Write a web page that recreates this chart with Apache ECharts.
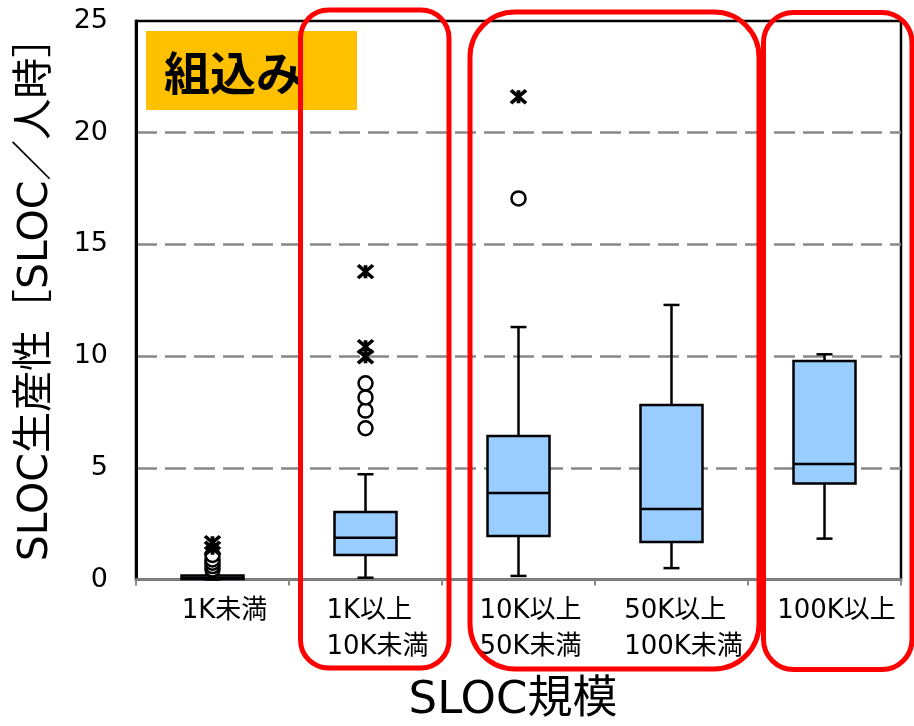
<!DOCTYPE html>
<html>
<head>
<meta charset="utf-8">
<script src="https://cdn.jsdelivr.net/npm/echarts@6/dist/echarts.min.js"></script>
<style>
  html, body { margin: 0; padding: 0; background: #fff; }
  #chart { width: 914px; height: 726px; }
</style>
</head>
<body>
<div id="chart"></div>
<script>
// SLOC productivity by project size (embedded systems)
const categories = ['1K未満', '1K以上\n10K未満', '10K以上\n50K未満', '50K以上\n100K未満', '100K以上'];

// five-number summaries per size class
const whiskerLow  = [0.00, 0.08, 0.16, 0.51, 1.83];
const quartile1   = [0.02, 1.10, 1.95, 1.68, 4.30];
const medians     = [0.08, 1.87, 3.87, 3.16, 5.17];
const quartile3   = [0.18, 3.02, 6.42, 7.81, 9.78];
const whiskerHigh = [0.20, 4.71, 11.30, 12.29, 10.08];

// outliers: [category index, value]
const mildOutliers = [
  [0, 0.45], [0, 0.6], [0, 0.75], [0, 0.9], [0, 1.1],
  [1, 6.77], [1, 7.56], [1, 8.15], [1, 8.78],
  [2, 17.06]
];
const extremeOutliers = [
  [0, 1.4], [0, 1.65],
  [1, 9.97], [1, 10.42], [1, 13.78],
  [2, 21.61]
];

const yTicks = { min: 0, max: 25, interval: 5 };

const FONT = "'DejaVu Sans', 'Noto Sans CJK JP', sans-serif";
const BOX_FILL = '#99CCFF';
const BOX_WIDTH = 62;
const CAP_WIDTH = 16;

const boxData = categories.map((c, i) => [i, whiskerLow[i], quartile1[i], medians[i], quartile3[i], whiskerHigh[i]]);

function renderBox(params, api) {
  const i = api.value(0);
  const pLow = api.coord([i, api.value(1)]);
  const pQ1 = api.coord([i, api.value(2)]);
  const pMed = api.coord([i, api.value(3)]);
  const pQ3 = api.coord([i, api.value(4)]);
  const pHigh = api.coord([i, api.value(5)]);
  const cx = pMed[0];
  const half = BOX_WIDTH / 2;
  const cap = CAP_WIDTH / 2;
  const lineStyle = { stroke: '#000', lineWidth: 2.5, fill: null };
  return {
    type: 'group',
    children: [
      { type: 'line', shape: { x1: cx, y1: pQ3[1], x2: cx, y2: pHigh[1] }, style: lineStyle },
      { type: 'line', shape: { x1: cx, y1: pQ1[1], x2: cx, y2: pLow[1] }, style: lineStyle },
      { type: 'line', shape: { x1: cx - cap, y1: pHigh[1], x2: cx + cap, y2: pHigh[1] }, style: lineStyle },
      { type: 'line', shape: { x1: cx - cap, y1: pLow[1], x2: cx + cap, y2: pLow[1] }, style: lineStyle },
      { type: 'rect', shape: { x: cx - half, y: pQ3[1], width: BOX_WIDTH, height: pQ1[1] - pQ3[1] },
        style: { fill: BOX_FILL, stroke: '#000', lineWidth: 2.5 } },
      { type: 'line', shape: { x1: cx - half, y1: pMed[1], x2: cx + half, y2: pMed[1] }, style: lineStyle }
    ]
  };
}

const chart = echarts.init(document.getElementById('chart'), null, { renderer: 'canvas' });

chart.setOption({
  backgroundColor: '#fff',
  animation: false,
  grid: {
    left: 136, right: 13, top: 21, bottom: 146.5,
    show: true, borderColor: '#000', borderWidth: 2.5, backgroundColor: 'transparent'
  },
  xAxis: {
    type: 'category',
    data: categories,
    boundaryGap: true,
    axisLine: { show: true, lineStyle: { color: '#888', width: 2.5 } },
    axisTick: { show: true, length: 6, lineStyle: { color: '#888', width: 2 } },
    axisLabel: {
      margin: 14,
      interval: 0,
      padding: [0, 0, 0, 24],
      formatter: v => v.split('\n').map(s => '{a|' + s + '}').join('\n'),
      rich: { a: { fontSize: 26, lineHeight: 36, fontFamily: FONT, color: '#000', align: 'left' } }
    },
    splitLine: { show: false }
  },
  yAxis: {
    type: 'value',
    min: yTicks.min, max: yTicks.max, interval: yTicks.interval,
    axisLine: { show: true, lineStyle: { color: '#000', width: 3 } },
    axisTick: { show: false },
    axisLabel: { margin: 28, fontSize: 27, fontFamily: FONT, color: '#000' },
    splitLine: {
      show: true, showMinLine: false, showMaxLine: false,
      lineStyle: { color: '#888', width: 2.5, type: [21, 8] }
    }
  },
  series: [
    {
      type: 'custom',
      renderItem: renderBox,
      data: boxData,
      encode: { x: 0, y: [1, 2, 3, 4, 5] },
      z: 3
    },
    {
      type: 'scatter',
      data: mildOutliers,
      symbol: 'circle',
      symbolSize: 14,
      itemStyle: { color: '#fff', borderColor: '#000', borderWidth: 2.5, opacity: 1 },
      z: 4
    },
    {
      type: 'scatter',
      data: extremeOutliers,
      symbol: 'path://M0,0L16,14M16,0L0,14M8,0L8,14',
      symbolSize: [15, 13],
      itemStyle: { color: 'transparent', borderColor: '#000', borderWidth: 3.5, opacity: 1 },
      z: 5
    }
  ],
  graphic: [
    // category badge
    { type: 'rect', z: 10, shape: { x: 146, y: 31, width: 211, height: 79 }, style: { fill: '#FFC000' } },
    { type: 'text', z: 11, x: 164, y: 73,
      style: { text: '組込み', fontSize: 46, fontWeight: 'bold', fontFamily: "'Noto Sans CJK JP', sans-serif",
               fill: '#000', align: 'left', verticalAlign: 'middle' } },
    // axis titles
    { type: 'text', z: 11, x: 36, y: 289, rotation: Math.PI / 2,
      style: { text: 'SLOC生産性［SLOC／人時］', fontSize: 41, fontFamily: FONT, fill: '#000',
               align: 'center', verticalAlign: 'middle' } },
    { type: 'text', z: 11, x: 513, y: 701,
      style: { text: 'SLOC規模', fontSize: 45, fontFamily: FONT, fill: '#000',
               align: 'center', verticalAlign: 'middle' } },
    // highlighted groups
    { type: 'rect', z: 20, shape: { x: 300.5, y: 10, width: 148.5, height: 658, r: 28 },
      style: { fill: 'none', stroke: '#FF0000', lineWidth: 5 } },
    { type: 'rect', z: 20, shape: { x: 470, y: 12, width: 289, height: 657, r: 45 },
      style: { fill: 'none', stroke: '#FF0000', lineWidth: 5 } },
    { type: 'rect', z: 20, shape: { x: 763.5, y: 12.5, width: 148.5, height: 657, r: 30 },
      style: { fill: 'none', stroke: '#FF0000', lineWidth: 5 } }
  ]
});
</script>
</body>
</html>
